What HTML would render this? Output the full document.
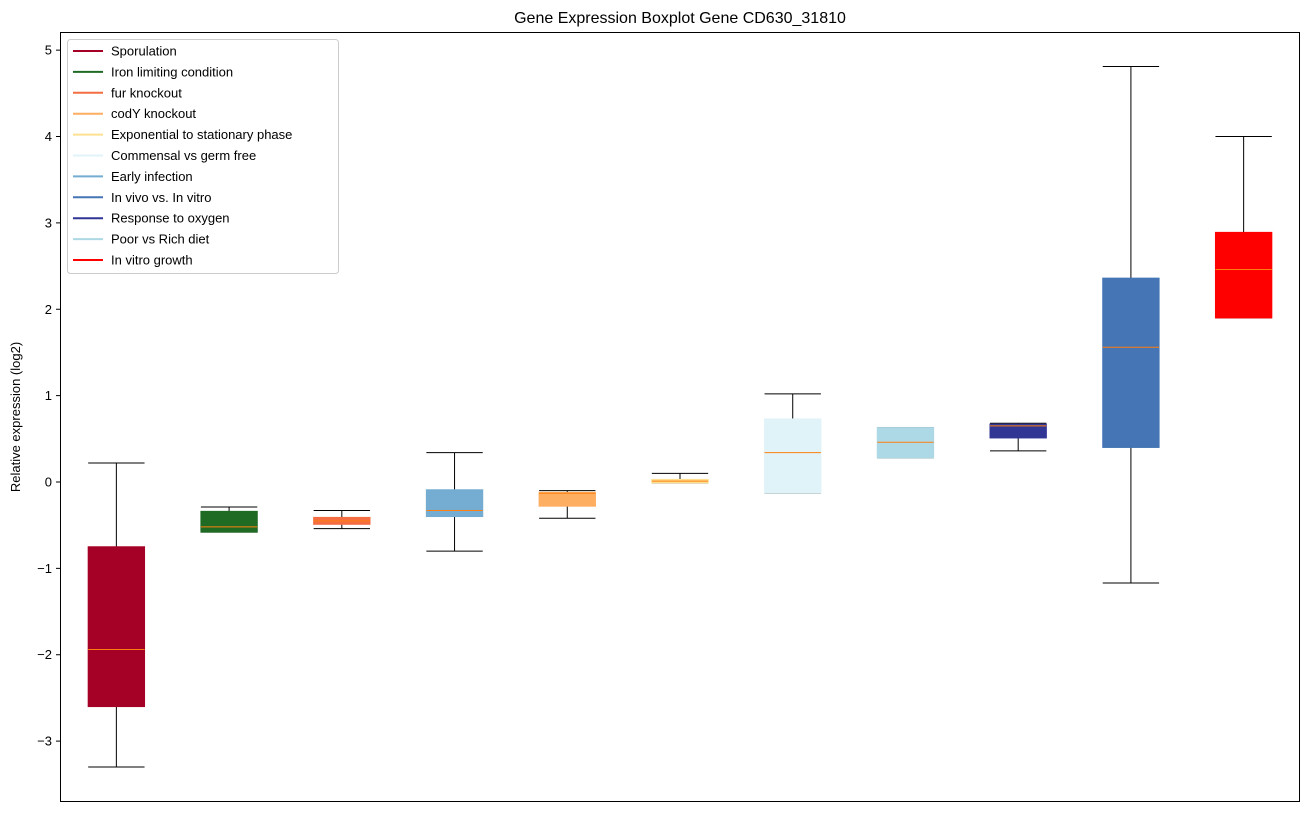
<!DOCTYPE html>
<html><head><meta charset="utf-8"><style>
body{margin:0;background:#fff;font-family:"Liberation Sans","DejaVu Sans",sans-serif;}
</style></head><body>
<svg id="chart" width="1309" height="812" xmlns="http://www.w3.org/2000/svg" font-family="Liberation Sans, DejaVu Sans, sans-serif">
<text x="680" y="23" text-anchor="middle" font-size="16">Gene Expression Boxplot Gene CD630_31810</text>
<text transform="translate(20,417) rotate(-90)" text-anchor="middle" font-size="13">Relative expression (log2)</text>
<g id="boxes"></g>
<g id="yaxis"></g>
<rect x="60.5" y="32.5" width="1239" height="769" fill="none" stroke="#000" stroke-width="1"/>
<g id="legend"></g>
</svg>
<script>
const categories=["Sporulation","Iron limiting condition","fur knockout","Early infection","codY knockout","Exponential to stationary phase","Commensal vs germ free","Poor vs Rich diet","Response to oxygen","In vivo vs. In vitro","In vitro growth"];
const colors=["#a50026","#1f6b24","#f46d43","#74add1","#fdae61","#fee090","#e0f3f8","#add8e6","#313695","#4575b4","#ff0000"];
const whiskerHigh=[0.22,-0.29,-0.33,0.34,-0.10,0.10,1.02,0.63,0.68,4.81,4.00];
const q3=[-0.75,-0.34,-0.41,-0.09,-0.12,0.03,0.73,0.63,0.67,2.36,2.89];
const medians=[-1.94,-0.52,-0.45,-0.33,-0.13,0.01,0.34,0.46,0.65,1.56,2.46];
const q1=[-2.60,-0.58,-0.49,-0.40,-0.28,-0.01,-0.13,0.28,0.51,0.40,1.90];
const whiskerLow=[-3.30,-0.58,-0.54,-0.80,-0.42,-0.01,-0.13,0.28,0.36,-1.17,1.90];
const legendOrder=["Sporulation","Iron limiting condition","fur knockout","codY knockout","Exponential to stationary phase","Commensal vs germ free","Early infection","In vivo vs. In vitro","Response to oxygen","Poor vs Rich diet","In vitro growth"];
const yTicks=[-3,-2,-1,0,1,2,3,4,5];
const yTickLabels=["\u22123","\u22122","\u22121","0","1","2","3","4","5"];

const NS="http://www.w3.org/2000/svg";
const L=60,R=1300,T=32,B=802,yMin=-3.705,yMax=5.21;
const xs=i=>L+(i+0.5)*(R-L)/categories.length;
const ys=v=>B-(v-yMin)/(yMax-yMin)*(B-T);
function mk(tag,attrs,parent){const e=document.createElementNS(NS,tag);for(const k in attrs)e.setAttribute(k,attrs[k]);parent.appendChild(e);return e;}
const gb=document.getElementById('boxes');
const bw=0.5*(R-L)/categories.length;
categories.forEach((c,i)=>{
  const cx=xs(i);
  const g=mk('g',{},gb);
  
  
  mk('line',{x1:cx,x2:cx,y1:ys(q3[i]),y2:ys(whiskerHigh[i]),stroke:'#000'},g);
  mk('line',{x1:cx,x2:cx,y1:ys(q1[i]),y2:ys(whiskerLow[i]),stroke:'#000'},g);
  mk('line',{x1:cx-bw/2,x2:cx+bw/2,y1:ys(whiskerHigh[i]),y2:ys(whiskerHigh[i]),stroke:'#000'},g);
  mk('line',{x1:cx-bw/2,x2:cx+bw/2,y1:ys(whiskerLow[i]),y2:ys(whiskerLow[i]),stroke:'#000'},g);
  const h=Math.max(ys(q1[i])-ys(q3[i]),1.5);
  mk('rect',{x:cx-bw/2,y:ys(q3[i]),width:bw,height:h,fill:colors[i],stroke:colors[i]},g);
  mk('line',{x1:cx-bw/2,x2:cx+bw/2,y1:ys(medians[i]),y2:ys(medians[i]),stroke:'#ff7f0e','stroke-width':1},g);
});
const ga=document.getElementById('yaxis');
yTicks.forEach((t,i)=>{
  const y=ys(t);
  const tk=mk('line',{x1:L-4,x2:L,y1:y,y2:y,stroke:'#000'},ga);
  
  
  const tx=mk('text',{x:L-8,y:y+4.5,'text-anchor':'end','font-size':13},ga);
  tx.textContent=yTickLabels[i];
  
  
});
const gl=document.getElementById('legend');


mk('rect',{x:67.5,y:39.5,width:271,height:234,fill:'#fff','fill-opacity':0.8,stroke:'#ccc',rx:3},gl);
legendOrder.forEach((n,j)=>{
  const y=51+j*20.9;
  const col=colors[categories.indexOf(n)];
  const e=mk('g',{},gl);
  
  
  mk('line',{x1:73,x2:103,y1:y,y2:y,stroke:col,'stroke-width':2},e);
  const t=mk('text',{x:111,y:y+4.5,'font-size':13},e);
  t.textContent=n;
});
</script>
</body></html>
